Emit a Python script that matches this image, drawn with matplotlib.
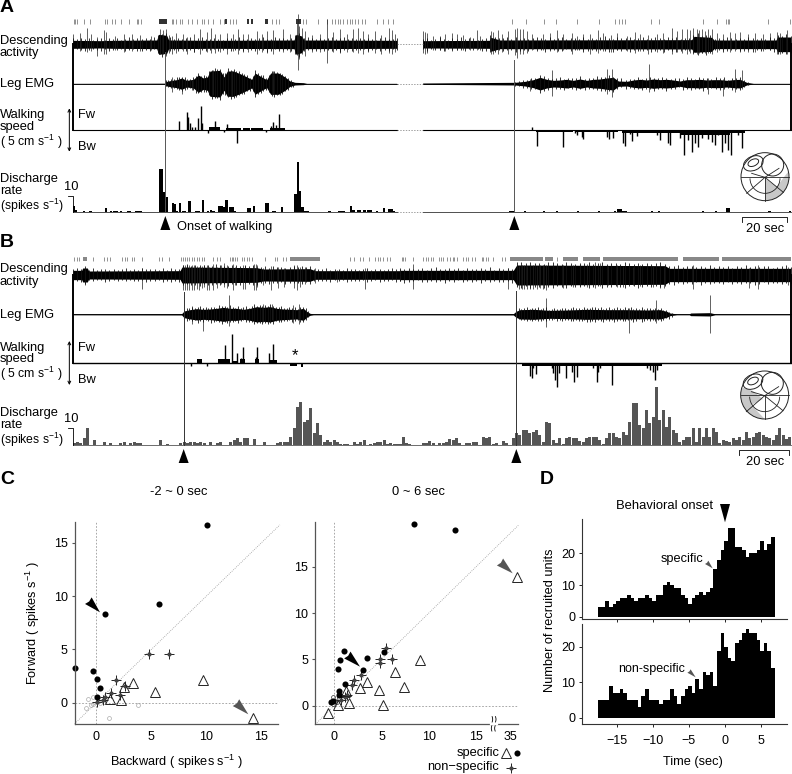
#!/usr/bin/env python3
"""
Recording traces (A, B), rate scatter plots (C) and recruitment histograms (D)
Top panels are read in crop units: 3 units = 1 image pixel
"""
import numpy as np
import matplotlib
matplotlib.use("Agg")
import matplotlib.pyplot as plt
from matplotlib.patches import Circle, Ellipse, Polygon, Arc

plt.rcParams['font.family'] = ['Liberation Sans', 'DejaVu Sans']
plt.rcParams['mathtext.fontset'] = 'custom'
plt.rcParams['mathtext.rm'] = 'Liberation Sans'
plt.rcParams['mathtext.default'] = 'rm'

# ---- panel A: spike rasters
a_raster_l = [222, 226, 230, 253, 270, 315, 322, 335, 345, 362, 388, 410, 415, 422, 515, 520, 528, 540, 545, 565,
              575, 592, 605, 612, 625, 640, 660, 672, 690, 700, 708, 815, 828, 838, 910, 918, 955, 982, 995, 1005,
              1015, 1020, 1030, 1040, 1050, 1055, 1065, 1075, 1085, 1095, 1130, 1150, 1165, 1180]
a_raster_blocks = [(478, 22), (675, 7), (740, 8), (752, 8), (795, 10), (888, 14)]
a_raster_r = [335, 377, 432, 469, 532, 598, 646, 658, 667, 674, 752, 777, 908, 950, 978, 983, 987, 1105, 1170]

# panel A: descending activity, band is (x, half height), spikes are (x, up, down)
a_desc_band_l = [(218, 12), (300, 11), (340, 12), (470, 13), (476, 30), (500, 27), (506, 13), (640, 12), (882, 13),
                 (888, 30), (905, 25), (912, 13), (1190, 12)]
a_desc_sp_l = [(220, 30, 25), (240, 35, 20), (262, 50, 22), (272, 30, 20), (292, 22, 35), (312, 42, 28),
               (318, 38, 30), (345, 25, 18), (372, 30, 22), (395, 30, 20), (420, 28, 20), (452, 25, 18),
               (480, 45, 30), (490, 42, 30), (497, 45, 35), (508, 28, 25), (515, 25, 30), (528, 35, 26),
               (548, 30, 20), (562, 22, 30), (583, 32, 22), (600, 45, 28), (620, 38, 22), (632, 50, 26),
               (645, 30, 25), (660, 30, 22), (680, 35, 28), (700, 30, 20), (715, 45, 30), (728, 30, 22),
               (745, 32, 22), (770, 40, 28), (785, 32, 22), (800, 40, 25), (820, 42, 28), (848, 45, 22),
               (870, 32, 24), (890, 65, 32), (893, 90, 78), (897, 55, 45), (905, 50, 30), (915, 40, 35),
               (935, 28, 22), (960, 30, 22), (982, 75, 55), (1000, 38, 22), (1020, 45, 25), (1040, 32, 22),
               (1060, 45, 24), (1075, 50, 25), (1090, 40, 28), (1105, 30, 22), (1125, 40, 25), (1143, 28, 30),
               (1168, 50, 25), (1175, 42, 30), (1185, 32, 22)]
a_desc_hair_l = [6, 3, 8, 4, 9, 2, 5, 7, 3, 6, 4, 8, 2, 5, 9, 3, 6, 4, 7, 2, 8, 5, 3, 6, 10, 4, 7, 3, 5, 8, 2, 6,
                 9, 4, 3, 7, 5, 2, 8, 6, 4, 9, 3, 5, 7, 2, 6, 8, 4, 3, 10, 5, 7, 2, 6, 4, 8, 3, 9, 5, 2, 7, 4, 6, 8,
                 3, 5, 9, 2, 6, 4, 7, 3, 8, 5, 2, 6, 9, 4, 3, 7]
a_desc_band_r = [(68, 11), (268, 12), (272, 21), (300, 13), (875, 14), (882, 24), (935, 21), (942, 13), (1128, 13),
                 (1132, 22), (1172, 22)]
a_desc_sp_r = [(68, 40, 25), (75, 38, 28), (80, 35, 25), (100, 25, 18), (120, 25, 18), (135, 32, 20), (155, 35, 20),
               (170, 30, 18), (190, 28, 18), (210, 22, 16), (230, 42, 18), (240, 25, 18), (272, 40, 30),
               (280, 38, 28), (295, 42, 30), (305, 30, 22), (325, 40, 28), (345, 45, 32), (350, 48, 40),
               (360, 45, 30), (370, 45, 30), (380, 40, 25), (395, 30, 18), (430, 30, 18), (450, 35, 20),
               (470, 42, 22), (490, 30, 18), (515, 35, 28), (530, 25, 18), (550, 30, 18), (570, 30, 28),
               (595, 42, 25), (610, 35, 20), (632, 28, 22), (650, 35, 18), (680, 25, 20), (705, 38, 25),
               (720, 32, 20), (745, 28, 30), (770, 32, 22), (790, 35, 25), (815, 48, 28), (830, 40, 22),
               (845, 45, 25), (860, 45, 28), (870, 42, 25), (880, 48, 28), (890, 45, 28), (897, 42, 25),
               (905, 45, 26), (915, 40, 25), (925, 45, 26), (935, 45, 28), (950, 35, 22), (970, 30, 18),
               (990, 38, 22), (1005, 35, 20), (1020, 38, 22), (1045, 30, 22), (1065, 35, 22), (1090, 30, 20),
               (1110, 35, 18), (1132, 38, 30), (1140, 35, 28), (1160, 42, 30)]
a_desc_hair_r = [5, 8, 3, 6, 10, 4, 2, 7, 5, 9, 3, 6, 8, 2, 4, 7, 10, 3, 5, 6, 9, 2, 8, 4, 6, 3, 7, 10, 5, 2, 9, 4,
                 6, 8, 3, 5, 7, 2, 9, 4, 6, 3, 8, 10, 5, 2, 7, 4, 6, 9, 3, 5, 8, 2, 6, 7, 4, 3, 9, 5, 8, 2, 6, 4, 7,
                 10, 3, 5, 8, 2, 6, 4, 9, 7, 3, 5, 2, 8, 6, 4, 7, 3, 9, 5, 6, 2, 8, 4]

# panel A: leg EMG
a_emg_band_l = [(218, 1), (495, 1.5), (497, 6), (510, 9), (530, 12), (545, 17), (560, 10), (580, 13), (595, 26),
                (610, 17), (622, 20), (630, 38), (660, 40), (672, 20), (682, 38), (700, 38), (720, 30), (735, 23),
                (755, 13), (765, 32), (785, 20), (800, 12), (812, 32), (835, 32), (855, 20), (870, 8), (885, 4),
                (910, 3), (920, 1), (1190, 1)]
a_emg_sp_l = [(515, 20, 25), (545, 18, 30), (575, 12, 20), (640, 42, 35), (695, 38, 38), (820, 38, 30)]
a_emg_hair_l = [5, 3, 6, 2, 7, 4, 3, 8, 5, 2, 6, 4, 7, 3, 9, 5, 6, 2, 8, 4, 3, 7, 5, 9, 2, 6, 4, 8, 3, 5, 7, 2, 6,
                9, 4, 3, 8, 5, 2, 7, 6, 4, 3, 5, 2, 3, 2, 1]
a_emg_band_r = [(68, 2), (345, 4), (375, 7), (400, 12), (420, 19), (440, 13), (460, 10), (480, 11), (500, 13),
                (520, 10), (540, 14), (560, 10), (580, 13), (600, 14), (620, 17), (640, 19), (655, 8), (680, 7),
                (700, 11), (720, 13), (740, 11), (760, 14), (780, 12), (800, 13), (820, 11), (840, 8), (860, 12),
                (880, 12), (900, 13), (920, 11), (940, 12), (960, 12), (980, 10), (1000, 12), (1020, 13), (1040, 4),
                (1060, 1), (1172, 1)]
a_emg_sp_r = [(390, 15, 22), (455, 40, 38), (620, 45, 30), (635, 45, 40), (748, 60, 25), (925, 18, 30),
              (970, 15, 38), (1005, 45, 25), (1025, 40, 15)]
a_emg_hair_r = [2, 3, 5, 4, 7, 3, 6, 8, 4, 2, 6, 9, 3, 5, 7, 4, 8, 2, 6, 3, 9, 5, 4, 7, 2, 6, 8, 3, 5, 4, 9, 2, 7,
                6, 3, 5, 8, 4, 2, 6, 9, 3, 7, 5, 2, 8, 4, 6, 3, 7, 5, 9, 2, 6, 4, 8, 3, 2]

# panel A: walking speed, positive is forward; base spans are the thick strip along the zero line
a_speed_l = [(538, 27), (560, 55), (564, 38), (570, 20), (575, 10), (585, 8), (595, 35), (602, 73), (606, 22),
             (623, -10), (646, 27), (672, -6), (680, 18), (712, -40), (798, -6), (812, 12), (820, 25), (828, 15),
             (838, 47)]
a_speed_span_l = [(628, 24, 8), (652, 8, 9), (678, 44, 7), (730, 20, 7), (754, 34, 7), (810, 46, 7)]
a_speed_r = [(395, 10), (412, -48), (488, -50), (525, -10), (530, -15), (545, -20), (550, -28), (620, -22),
             (628, -28), (640, -25), (670, -40), (675, -48), (690, -12), (697, -32), (710, -18), (770, -15),
             (780, -30), (805, -40), (810, -45), (840, -25), (852, -75), (865, -30), (877, -65), (885, -40),
             (895, -50), (905, -25), (925, -28), (935, -35), (945, -45), (955, -15), (965, -65), (975, -40),
             (985, -60), (992, -75), (1015, -15), (1025, -55)]
a_speed_span_r = [(408, 110, -7), (525, 130, -7), (665, 370, -8), (840, 150, -14)]

# panel A: discharge rate (x of bin, spikes/s)
a_rate_l = [(218, 3.5), (225, 1.5), (248, .5), (268, .5), (315, 2.5), (330, .5), (340, .5), (348, .5), (360, .5),
            (380, .5), (387, .5), (405, .5), (412, .5), (419, .5), (476, 26), (483, 26), (489, 12), (496, 9),
            (515, 5.5), (521, 5), (527, 1), (537, 5.5), (545, 1), (552, 1), (565, 7), (585, .5), (592, .5),
            (605, 7.5), (620, 1), (630, 1.5), (637, .5), (655, 3.5), (662, 3.5), (668, 3), (676, 7.5), (688, 3),
            (695, 3), (702, 1), (740, 2.5), (747, 2.5), (758, 4), (795, 5.5), (801, 5.5), (815, .5), (822, .5),
            (842, 3), (883, 11), (890, 30), (897, 13), (904, 3), (912, 1), (919, 1), (950, .3), (985, .5),
            (1015, .5), (1022, .5), (1029, .5), (1050, 3.5), (1057, 1.5), (1070, 1.5), (1077, 1.5), (1090, 1.5),
            (1100, 1.5), (1108, 1.5), (1128, .5), (1148, 2.5), (1165, 2), (1172, 2), (1179, 1)]
a_rate_r = [(328, .5), (335, .5), (372, .5), (428, .5), (468, .5), (530, .5), (593, .5), (642, .5), (652, 1.7),
            (659, 1.7), (666, 1), (673, .5), (752, .5), (773, .5), (905, .5), (945, .5), (978, 2.5), (984, 2.5),
            (1105, .5), (1167, .5)]

# ---- panel B
b_raster_l = [222, 230, 238, 278, 312, 322, 330, 365, 375, 382, 395, 403, 425, 478, 485, 507, 543, 550, 555, 562,
              568, 575, 582, 590, 598, 605, 612, 640, 650, 660, 690, 695, 700, 705, 712, 725, 733, 740, 748, 755,
              795, 825, 832, 850, 858, 1050, 1062, 1080, 1090, 1108, 1125, 1133, 1140, 1150, 1160, 1170]
b_raster_blocks_l = [(248, 14), (870, 90)]
b_raster_r = [5, 10, 15, 40, 70, 77, 85, 92, 98, 118, 124, 130, 140, 150, 158, 163, 170, 190, 198, 205, 215, 225,
              245, 250, 258, 265, 280, 305, 315, 470]
b_raster_blocks_r = [(330, 98), (435, 25), (490, 45), (550, 50), (610, 225), (848, 110), (965, 207)]

b_desc_band_l = [(218, 14), (245, 14), (248, 21), (262, 21), (266, 12), (540, 13), (546, 24), (770, 22), (790, 18),
                 (930, 19), (945, 13), (1200, 13)]
b_desc_sp_l = [(255, 20, 30), (425, 20, 42), (550, 30, 45), (555, 30, 45), (560, 30, 45), (568, 30, 45),
               (575, 30, 45), (583, 30, 45), (590, 28, 42), (598, 25, 45), (605, 28, 40), (612, 30, 35),
               (620, 30, 45), (628, 25, 45), (640, 32, 45), (650, 25, 40), (662, 30, 28), (672, 35, 35),
               (680, 30, 40), (698, 32, 45), (705, 25, 30), (728, 30, 42), (735, 28, 42), (762, 32, 45),
               (767, 32, 45), (772, 30, 35), (788, 20, 30), (812, 28, 45), (835, 25, 40), (853, 22, 35),
               (882, 30, 38), (892, 30, 45), (900, 25, 35), (915, 25, 28), (945, 20, 25), (1012, 16, 20),
               (1095, 22, 42)]
b_desc_hair_l = [5, 7, 3, 6, 4, 8, 2, 5, 7, 3, 6, 4, 5, 8, 2, 6, 3, 7, 4, 5, 6, 3, 8, 2, 7, 4, 5, 6, 10, 3, 7, 5, 8,
                 6, 4, 9, 7, 5, 3, 8, 6, 4, 9, 5, 7, 3, 6, 8, 4, 10, 5, 7, 3, 6, 9, 4, 7, 5, 8, 3, 6, 4, 7, 2, 5, 6,
                 3, 7, 4, 5, 2, 6, 8, 3, 4, 6, 2, 5, 7, 4, 3]
b_desc_band_r = [(0, 14), (340, 14), (350, 30), (795, 28), (808, 20), (1172, 20)]
b_desc_sp_r = [(40, 32, 42), (324, 22, 42), (358, 28, 42), (365, 30, 42), (372, 30, 42), (380, 28, 42),
               (390, 28, 42), (400, 30, 42), (410, 28, 42), (420, 30, 40), (430, 30, 42), (437, 30, 44),
               (445, 28, 30), (470, 30, 30), (490, 30, 38), (520, 30, 35), (540, 30, 32), (560, 32, 35),
               (585, 38, 40), (600, 35, 32), (625, 28, 30), (650, 30, 35), (670, 28, 35), (700, 25, 30),
               (720, 30, 32), (740, 28, 30), (760, 28, 35), (780, 30, 40), (792, 25, 40), (880, 30, 42),
               (1047, 20, 40), (1075, 30, 42), (1165, 25, 30)]
b_desc_hair_r = [6, 4, 8, 3, 5, 7, 2, 6, 9, 4, 3, 7, 5, 8, 2, 6, 4, 3, 7, 5, 9, 2, 6, 4, 8, 3, 10, 8, 6, 9, 5, 7, 4,
                 8, 10, 6, 5, 9, 7, 4, 8, 6, 10, 5, 7, 9, 4, 6, 8, 5, 10, 7, 4, 9, 6, 8, 5, 7, 10, 4, 8, 6, 9, 5, 7,
                 8, 4, 6, 5, 9, 3, 7, 5, 8, 2, 6, 4, 9, 3, 7, 5, 8, 6, 2, 4, 7, 9, 3]

b_emg_band_l = [(218, 1.5), (545, 2), (552, 10), (570, 14), (590, 17), (610, 15), (630, 16), (650, 18), (670, 21),
                (690, 18), (710, 18), (730, 15), (750, 18), (770, 23), (790, 21), (810, 23), (830, 18), (850, 16),
                (870, 15), (890, 14), (910, 18), (920, 9), (930, 3), (940, 1.5), (1200, 1.5)]
b_emg_sp_l = [(575, 25, 28), (610, 18, 50), (688, 58, 35), (790, 30, 22), (815, 30, 18), (880, 28, 25),
              (898, 30, 30)]
b_emg_hair_l = [3, 6, 4, 7, 2, 5, 8, 3, 6, 4, 7, 5, 2, 8, 4, 6, 3, 9, 5, 2, 7, 4, 6, 8, 3, 5, 9, 2, 6, 4, 7, 3, 8, 5,
                2, 6, 9, 4, 3, 7, 5, 8, 2, 6, 4, 7, 3]
b_emg_band_r = [(0, 1.5), (340, 2), (348, 9), (360, 14), (400, 15), (450, 12), (500, 13), (560, 15), (620, 14),
                (680, 14), (740, 13), (780, 14), (800, 9), (810, 4), (830, 1.5), (868, 1.5), (872, 4), (930, 5),
                (945, 1.5), (1172, 1.5)]
b_emg_sp_r = [(437, 50, 38), (571, 20, 22), (686, 18, 55), (767, 42, 25), (931, 58, 55)]
b_emg_hair_r = [4, 7, 3, 6, 8, 2, 5, 4, 7, 3, 6, 9, 2, 5, 8, 4, 3, 6, 7, 2, 5, 9, 4, 6, 3, 8, 5, 2, 7, 6, 4, 9, 3, 5,
                7, 2, 6, 8, 4, 3, 7, 5, 9, 2, 6, 4, 8, 3, 5, 7, 2, 6, 3, 5, 2, 3, 1, 2]

b_speed_l = [(572, -8), (620, -8), (674, 55), (695, 88), (710, 30), (722, 15), (730, 48), (768, 18), (772, 48),
             (808, 30), (818, 58)]
b_speed_span_l = [(590, 16, 13), (655, 34, 12), (700, 12, 8), (720, 16, 12), (766, 12, 12), (806, 26, 9),
                  (870, 20, -9), (902, 6, -10)]
b_speed_r = [(390, -38), (395, -45), (400, -15), (408, -32), (455, -15), (460, -30), (465, -50), (472, -70),
             (476, -30), (498, -45), (517, -25), (522, -55), (530, -40), (580, -15), (590, -55), (595, -25),
             (600, -15), (635, -65), (740, -15), (750, -20), (758, -25), (764, -50), (770, -20)]
b_speed_span_r = [(366, 90, -7), (455, 330, -7)]

# discharge rate, one value per bin from x=218 (left) and x=5 (right)
b_rate_l = [1, 2, 1, 4, 10, 0, 3, 0, 0, 2, 0, 1, 0, 0, 1, 2, 0, 1, 2, 1, 1, 0, 0, 0, 0, 0, 3, 0, .5, 0, 0, 0, 1, 2,
            1, 2, 2, 1, 2, 1, 0, 2, 0, 1, 2, 0, 0, 2, 3, 4, 2, 4, 4, 0, 3.5, 0, 0, 2, 0, 0, 0, 1, 2, 2, 2, 5, 10, 23,
            26, 14, 15, 22, 7, 13, 6, 2, 3, 2, 3, 2, .5, .5, .5, 0, 2, .5, 2, 3, 0, .5, 1, 2, 2, 3, .5, 1, .5, .5, .5]
b_rate_r = [5, 1, .5, .3, 0, 0, 1, 1, 2.5, 1, 0, 1, 1.5, 2, 3.5, 3, 4, 1, 0, 1, 1.5, 2, 2, 0, 5, 4, 5, .5, 1, 0,
            2.5, 1, 0, 4, 7, 6, 9, 9, 7.5, 8, 9, 6, 2, 14, 13, 3, 1, 4, .5, 4, 5, 4.5, 4, 2.5, 2, 4, 5, 5, 5, 3, .5,
            4, 7, 7, 5, 4, 8, 6, 14, 25, 25, 12, 10, 21, 13, 17, 35, 15, 21, 11, 17, 9, 7, 2, 3, 5, 5, 10, 2, 10, 5,
            10, 5, 10, 8, 1, 3, 2.5, 2, 4, 3, 5, 3, 8, 4, 5, 7, 8, 6, 5, 4, 3, 6, 10, 6, 3.5, 5]

# ---- panel C left (-2 ~ 0 sec)
c1_circle_x = [10.06, 5.7, .82, -1.97, -.27, .03, .33, .03]
c1_circle_y = [16.66, 9.28, 8.31, 3.3, 2.94, 2.22, 1.4, .56]
c1_tri_x = [14.27, 9.67, 5.3, 3.3, 2.5, 2.24, 1.24]
c1_tri_y = [-1.4, 2.1, .97, 1.84, 1.44, .25, .31]
c1_plus_x = [4.76, 6.6, 1.82, 2.64, 1.33, 2.15, .79, .58, .03]
c1_plus_y = [4.62, 4.56, 2.16, 1.6, .87, .72, .56, .3, .06]
c1_open_x = [-.79, -.97, -.5, -.33, 3.8, 1.15, -.27, .3, .7]
c1_open_y = [.37, -.53, -.25, -.12, -.19, -1.4, .56, 0, .06]

# panel C right (0 ~ 6 sec), x values past the axis break are real rates
c2_circle_x = [8.45, 12.8, 3.43, 5.3, 1, .57, .35, 3.07, 1.17, .5, .5, -.1, -.35]
c2_circle_y = [19.7, 19.03, 5.2, 5.8, 5.94, 4.93, 3.92, 3.88, 2.34, 1.62, 1.2, .54, .36]
c2_tri_x = [38, 9.08, 6.43, 7.35, 3.46, 2.76, 4.73, 5.2, 1.55, .42, -.64, 1.2]
c2_tri_y = [13.96, 4.89, 3.67, 1.98, 2.55, 1.9, 1.65, .1, .25, .1, -.8, 1.6]
c2_plus_x = [5.48, 6.15, 4.84, 4.84, 2.8, 2.08, 1.9, 1.38, 1.1, .67]
c2_plus_y = [6.2, 5, 5.03, 4.6, 3.3, 2.77, 2.27, 1.2, .9, .6]
c2_open_x = [-.1, .07, .25, .53, -.1]
c2_open_y = [.9, .54, .36, .83, .18]

# ---- panel D: recruited units per 0.5 s bin
d_specific = [3, 3, 5, 3, 4, 5, 6, 6, 7, 6, 5, 6, 6, 7, 6, 5, 7, 7, 10, 11, 10, 9, 9, 7, 6, 4, 6, 7, 8, 7, 8, 9, 15,
              18, 21, 24, 28, 28, 22, 22, 21, 19, 20, 20, 21, 24, 21, 23, 25]
d_nonspecific = [5, 5, 5, 9, 7, 7, 8, 7, 5, 5, 5, 3, 6, 8, 5, 5, 5, 4, 5, 5, 8, 6, 4, 6, 8, 9, 7, 11, 8, 13, 12, 13,
                 9, 19, 24, 20, 17, 16, 21, 22, 24, 25, 24, 24, 22, 19, 21, 19, 14]

W, H = 792, 774
SHIFT = 1200  # right half crops start at x=400 px
TXT = 9.3


def axes_px(x0, y_top, x1, y_bot):
    return fig.add_axes([x0 / W, 1 - y_bot / H, (x1 - x0) / W, (y_bot - y_top) / H])


fig = plt.figure(figsize=(W / 100, H / 100), dpi=100)

# overlay in crop units, used for the traces and all annotations
tr = fig.add_axes([0, 0, 1, 1], zorder=5)
tr.set_xlim(0, 3 * W)
tr.set_ylim(3 * H, 0)
tr.axis('off')
tr.patch.set_alpha(0)


def label(x, y, s, size=TXT, **kw):
    kw.setdefault('va', 'center')
    tr.text(x, y, s, fontsize=size, **kw)


def raster(y, xs, blocks=(), shift=0, block_color='#333333'):
    tr.vlines(np.array(xs) + shift, y, y + 14, lw=.5, color='#666666')
    for start, width in blocks:
        tr.fill_between([start + shift, start + width + shift], y, y + 14, color=block_color, lw=0)


def trace(base, band, spikes, hair, shift=0, hair_from=None, hair_to=None):
    bx, bh = np.array(band).T
    tr.plot(bx[[0, -1]] + shift, [base, base], color='k', lw=.6)
    tr.fill_between(bx + shift, base - bh, base + bh, color='k', lw=0)
    sx, up, dn = np.array(spikes).T
    tr.vlines(sx + shift, base - up, base + dn, lw=.5, color='#222222')
    # fine jitter around the band, spaced evenly over its active stretch
    hair = np.array(hair, float)
    lo = bx[0] if hair_from is None else hair_from
    hi = bx[-1] if hair_to is None else hair_to
    hx = np.linspace(lo, hi, len(hair))
    hb = np.interp(hx, bx, bh)
    tr.vlines(hx + shift, base - hb - hair, base + hb + hair[::-1], lw=.6, color='#111111')


def speed(base, vals, spans, shift=0):
    sx, sv = np.array(vals).T
    tr.vlines(sx + shift, base, base - sv, lw=1.0, color='k')
    for start, width, h in spans:
        tr.fill_between([start + shift, start + width + shift], base, base - h, color='k', lw=0)


def rate_bars(base, vals, shift=0, width=7, color='k'):
    rx, rv = np.array(vals).T
    tr.bar(rx + shift, -rv * 5, width=width, bottom=base, align='edge', color=color, lw=0)


def tri(x, y_tip, w, h, color='k'):
    tr.add_patch(Polygon([(x, y_tip), (x - w / 2, y_tip + h), (x + w / 2, y_tip + h)], color=color, lw=0))


def kite(tip, tail, w, color):
    tip, tail = np.array(tip, float), np.array(tail, float)
    d = (tip - tail) / np.linalg.norm(tip - tail)
    n = np.array([-d[1], d[0]])
    tr.add_patch(Polygon([tip, tail + n * w, tail + d * w * .25, tail - n * w], color=color, lw=0))


def brain(cx, cy, shade):
    outline = Circle((cx, cy), 72, fill=False, ec='#222222', lw=.7)
    sh = Polygon([(cx + a, cy + b) for a, b in shade], color='#c8c8c8', lw=0)
    tr.add_patch(sh)
    sh.set_clip_path(Circle((cx, cy), 72, transform=tr.transData))
    tr.add_patch(outline)
    tr.add_patch(Circle((cx + 23, cy - 35), 33, fc='none', ec='#222222', lw=.7))
    tr.add_patch(Ellipse((cx - 35, cy - 40), 62, 42, angle=-25, fc='none', ec='#222222', lw=.7))
    tr.add_patch(Ellipse((cx - 35, cy - 42), 34, 20, angle=-25, fc='none', ec='#222222', lw=.7))
    tr.plot([cx - 72, cx + 72], [cy, cy], color='#222222', lw=.6)
    tr.add_patch(Arc((cx, cy + 5), 90, 90, theta1=0, theta2=180, ec='#222222', lw=.6))
    for dx, dy in [(-55, 50), (0, 72), (55, 47), (42, -25), (-40, -10)]:
        tr.plot([cx, cx + dx], [cy + 2, cy + dy], color='#222222', lw=.6)


def track_labels(y0, offs):
    label(0, y0 + offs['desc'], 'Descending')
    label(0, y0 + offs['desc'] + 38, 'activity')
    label(0, y0 + offs['emg'], 'Leg EMG')
    label(0, y0 + offs['walk'], 'Walking')
    label(0, y0 + offs['walk'] + 35, 'speed')
    label(0, y0 + offs['walk'] + 80, '( 5 cm s$^{-1}$ )', size=8.8)
    label(235, y0 + offs['walk'], 'Fw')
    label(235, y0 + offs['bw'], 'Bw')
    label(0, y0 + offs['dis'], 'Discharge')
    label(0, y0 + offs['dis'] + 35, 'rate')
    label(0, y0 + offs['dis'] + 80, '(spikes s$^{-1}$)', size=8.8)
    tr.annotate('', xy=(208, y0 + offs['walk'] - 20), xytext=(208, y0 + offs['bw'] + 15),
                arrowprops=dict(arrowstyle='<->,head_width=.1,head_length=.2', lw=.7, color='k',
                                shrinkA=0, shrinkB=0))


def dotted(y, x0=1190, x1=1268):
    tr.plot([x0, x1], [y, y], color='#777777', lw=.5, ls=(0, (2, 2)))


# ---- panel A
label(0, 22, 'A', size=14, weight='bold')
track_labels(0, dict(desc=122, emg=253, walk=345, bw=440, dis=538))
raster(58, a_raster_l, a_raster_blocks)
raster(58, a_raster_r, shift=SHIFT)
trace(133, a_desc_band_l, a_desc_sp_l, a_desc_hair_l)
trace(133, a_desc_band_r, a_desc_sp_r, a_desc_hair_r, SHIFT)
trace(251, a_emg_band_l, a_emg_sp_l, a_emg_hair_l, 0, 497, 880)
trace(251, a_emg_band_r, a_emg_sp_r, a_emg_hair_r, SHIFT, 345, 1045)
tr.plot([218, 1190], [390, 390], color='k', lw=.8)
tr.plot([1268, 2372], [390, 390], color='k', lw=.8)
speed(390, a_speed_l, a_speed_span_l)
speed(390, a_speed_r, a_speed_span_r, SHIFT)
for y in (133, 251, 390, 637):
    dotted(y)
tr.plot([218, 1190], [637, 637], color='#333333', lw=.6)
tr.plot([1268, 2372], [637, 637], color='#333333', lw=.6)
rate_bars(637, a_rate_l)
rate_bars(637, a_rate_r, SHIFT)
tr.plot([218, 218], [133, 390], color='k', lw=1.4)
tr.plot([2372, 2372], [133, 390], color='k', lw=1.4)
tr.plot([203, 218, 218], [587, 587, 637], color='k', lw=.6)
label(192, 560, '10')
tr.plot([496, 496], [155, 637], color='#555555', lw=.7)
tr.plot([1543, 1543], [180, 637], color='#555555', lw=.7)
tri(496, 648, 30, 42)
tri(1543, 648, 30, 42)
label(530, 682, 'Onset of walking')
tr.plot([2225, 2225, 2362, 2362], [666, 652, 652, 666], color='k', lw=.6)
label(2295, 686, '20 sec', ha='center')
brain(2295, 530, [(0, 5), (35, 30), (72, -18), (80, 80), (0, 80)])

# ---- panel B
OB = 705
label(0, OB + 22, 'B', size=14, weight='bold')
track_labels(OB, dict(desc=102, emg=240, walk=338, bw=435, dis=535))
raster(OB + 65, b_raster_l, b_raster_blocks_l, block_color='#888888')
raster(OB + 65, b_raster_r, b_raster_blocks_r, SHIFT, block_color='#888888')
trace(OB + 120, b_desc_band_l, b_desc_sp_l, b_desc_hair_l)
trace(OB + 120, b_desc_band_r, b_desc_sp_r, b_desc_hair_r, SHIFT)
trace(OB + 238, b_emg_band_l, b_emg_sp_l, b_emg_hair_l, 0, 552, 925)
trace(OB + 238, b_emg_band_r, b_emg_sp_r, b_emg_hair_r, SHIFT, 348, 815)
tr.plot([218, 2372], [OB + 385, OB + 385], color='k', lw=1)
speed(OB + 385, b_speed_l, b_speed_span_l)
speed(OB + 385, b_speed_r, b_speed_span_r, SHIFT)
label(884, OB + 362, '*', size=12, ha='center')
tr.plot([218, 218], [OB + 120, OB + 385], color='k', lw=1.4)
tr.plot([2372, 2372], [OB + 120, OB + 385], color='k', lw=1.4)
tr.plot([218, 2372], [OB + 630, OB + 630], color='#555555', lw=.6)
rx = 218 + 10 * np.arange(len(b_rate_l))
tr.bar(rx, -np.array(b_rate_l) * 5, width=9.2, bottom=OB + 630, align='edge', color='#555555', lw=0)
rx = SHIFT + 5 + 10 * np.arange(len(b_rate_r))
tr.bar(rx, -np.array(b_rate_r) * 5, width=9.2, bottom=OB + 630, align='edge', color='#555555', lw=0)
tr.plot([203, 218, 218], [OB + 579, OB + 579, OB + 630], color='k', lw=.6)
label(192, OB + 552, '10')
tr.plot([551, 551], [OB + 170, OB + 630], color='#333333', lw=.7)
tr.plot([1549, 1549], [OB + 168, OB + 630], color='#333333', lw=.7)
tri(551, OB + 642, 30, 42)
tri(1549, OB + 642, 30, 42)
tr.plot([2218, 2218, 2368, 2368], [OB + 660, OB + 645, OB + 645, OB + 660], color='k', lw=.6)
label(2295, OB + 680, '20 sec', ha='center')
brain(2294, OB + 480, [(-75, -25), (-35, -12), (-5, 12), (-40, 30), (0, 72), (-80, 80)])


# ---- panel C
def scatter_axes(x0, x1, ylim, xlim, xticks, xticklabels, yticks):
    ax = axes_px(x0, 470 + 155 / 3, x1, 470 + 762 / 3)
    ax.set_xlim(*xlim)
    ax.set_ylim(*ylim)
    ax.set_xticks(xticks, xticklabels)
    ax.set_yticks(yticks)
    for s in ('top', 'right'):
        ax.spines[s].set_visible(False)
    for s in ('left', 'bottom'):
        ax.spines[s].set_color('#555555')
        ax.spines[s].set_linewidth(.9)
    ax.tick_params(length=0, labelsize=9, pad=5)
    ax.tick_params(axis='y', length=2, color='#555555', pad=3)
    ax.axhline(0, color='#999999', lw=.6, ls=(0, (2, 2)))
    ax.axvline(0, color='#999999', lw=.6, ls=(0, (2, 2)))
    return ax


def marks(ax, cx, cy, tx, ty, px, py, ox, oy, open_color):
    ax.plot(ox, oy, 'o', ms=2.8, mfc='none', mec=open_color, mew=.5, clip_on=False)
    ax.plot(px, py, '+', ms=6.5, mec='#222222', mew=.7, clip_on=False)
    ax.plot(px, py, 'o', ms=3, color='#444444', mew=0, clip_on=False)
    ax.plot(tx, ty, '^', ms=6.8, mfc='none', mec='#222222', mew=.7, clip_on=False)
    ax.plot(cx, cy, 'o', ms=4.4, color='k', mew=0, clip_on=False)


c1 = scatter_axes(74.7, 277.7, (-2, 17), (-1.97, 16.5), [0, 5, 10, 15], ['0', '5', '10', '15'], [0, 5, 10, 15])
c1.plot([-1.97, 16.7], [-1.97, 16.7], color='#999999', lw=.6, ls=(0, (1, 1.5)), clip_on=False)
marks(c1, c1_circle_x, c1_circle_y, c1_tri_x, c1_tri_y, c1_plus_x, c1_plus_y, c1_open_x, c1_open_y, '#aaaaaa')


def broken(v):
    # x axis is compressed past the break, 35 sits at 18.62 on the axis
    v = np.array(v, float)
    return np.where(v >= 30, 18.62 + (v - 35) * .25, v)


c2 = scatter_axes(315.3, 518.3, (-1.98, 19.9), (-2.01, 19.5), [0, 5, 10, 15, 18.62], ['0', '5', '10', '15', '35'],
                  [0, 5, 10, 15])
c2.plot([-2, 19.5], [-2, 19.5], color='#999999', lw=.6, ls=(0, (1, 1.5)), clip_on=False)
marks(c2, c2_circle_x, c2_circle_y, broken(c2_tri_x), c2_tri_y, c2_plus_x, c2_plus_y, c2_open_x, c2_open_y, '#333333')

OC = 1410
label(0, OC + 27, 'C', size=14, weight='bold')
label(535, OC + 65, '-2 ~ 0 sec', ha='center')
label(810 + 445, OC + 65, '0 ~ 6 sec', ha='center')
label(100, OC + 460, 'Forward ( spikes s$^{-1}$ )', size=9.2, rotation=90, ha='center')
label(530, OC + 875, 'Backward ( spikes s$^{-1}$ )', size=9.2, ha='center')
kite((300, OC + 427), (265, OC + 392), 14, 'k')
kite((745, OC + 733), (708, OC + 698), 14, '#555555')
kite((810 + 270, OC + 590), (810 + 232, OC + 555), 14, 'k')
kite((810 + 728, OC + 310), (810 + 690, OC + 276), 14, '#555555')
label(810 + 688, OC + 848, 'specific', ha='right')
label(810 + 688, OC + 892, 'non\u2212specific', ha='right')
tr.plot([810 + 707], [OC + 850], '^', ms=6.8, mfc='none', mec='#222222', mew=.7)
tr.plot([810 + 742], [OC + 848], 'o', ms=4.4, color='k', mew=0)
tr.plot([810 + 722], [OC + 895], '+', ms=6.5, mec='#222222', mew=.7)
tr.plot([810 + 722], [OC + 895], 'o', ms=3, color='#444444', mew=0)
tr.plot([810 + 662, 810 + 682], [OC + 762, OC + 762], color='w', lw=1.6)
for bx in (810 + 666, 810 + 676):
    tr.add_patch(Arc((bx - 8, OC + 748), 20, 30, theta1=-50, theta2=50, ec='k', lw=.6))
    tr.add_patch(Arc((bx + 8, OC + 775), 20, 30, theta1=130, theta2=230, ec='k', lw=.6))

# ---- panel D
bins = -17.6 + .5 * np.arange(len(d_specific))
d1 = axes_px(582.3, 519.3, 787.3, 619)
d2 = axes_px(582.3, 624, 787.3, 724)
for ax, vals, ylim in ((d1, d_specific, (-.63, 30.7)), (d2, d_nonspecific, (-1.8, 26.5))):
    ax.bar(bins, vals, width=.5, align='edge', color='k', lw=0)
    ax.set_xlim(-19.8, 8.66)
    ax.set_ylim(*ylim)
    ax.set_yticks([0, 10, 20])
    ax.set_xticks([-15, -10, -5, 0, 5])
    for s in ('top', 'right'):
        ax.spines[s].set_visible(False)
    for s in ('left', 'bottom'):
        ax.spines[s].set_linewidth(.8)
        ax.spines[s].set_color('#333333')
    ax.tick_params(length=2, labelsize=9, width=.6, pad=3)
d1.tick_params(labelbottom=False)
d2.set_xticklabels(['\u221215', '\u221210', '\u22125', '0', '5'])
d2.tick_params(axis='x', pad=6)

DX = 1590
label(DX + 30, OC + 27, 'D', size=14, weight='bold')
label(DX + 257, OC + 108, 'Behavioral onset', size=9.4)
tri(DX + 585, OC + 157, 30, -55)
label(DX + 392, OC + 268, 'specific', size=9.2)
kite((DX + 548, OC + 295), (DX + 530, OC + 277), 7, '#555555')
label(DX + 265, OC + 598, 'non-specific', size=9)
kite((DX + 497, OC + 622), (DX + 477, OC + 603), 7, '#555555')
label(DX + 60, OC + 450, 'Number of recruited units', size=9.2, rotation=90, ha='center')
label(DX + 488, OC + 875, 'Time (sec)', size=9.2, ha='center')

fig.savefig('out.png', dpi=100)
